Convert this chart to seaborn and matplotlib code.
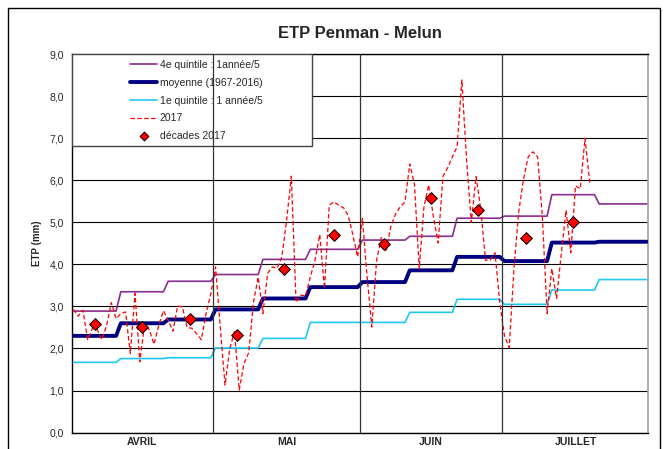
import numpy as np
import pandas as pd
import matplotlib
matplotlib.use("Agg")
import matplotlib.pyplot as plt
import seaborn as sns
from matplotlib.patches import Rectangle

# 12 décades d'avril à juillet (1-10, 11-20, 21-fin de mois)
decade_len = [10, 10, 10, 10, 10, 11, 10, 10, 10, 10, 10, 11]
quint4 = [2.89, 3.35, 3.60, 3.76, 4.12, 4.36, 4.58, 4.67, 5.10, 5.15, 5.66, 5.44]
moyenne = [2.30, 2.60, 2.69, 2.93, 3.19, 3.46, 3.58, 3.86, 4.18, 4.08, 4.52, 4.54]
quint1 = [1.67, 1.76, 1.78, 2.01, 2.24, 2.62, 2.62, 2.86, 3.17, 3.05, 3.39, 3.64]

# ETP journalière 2017 (1er avril -> 19 juillet)
etp_2017 = [
    2.93, 2.77, 2.91, 2.21, 2.48, 2.45, 2.21, 2.55, 3.09, 2.71,
    2.83, 2.87, 1.88, 3.31, 1.68, 2.55, 2.45, 2.10, 2.55, 2.90,
    2.67, 2.41, 3.01, 2.99, 2.50, 2.48, 2.35, 2.21, 2.83, 3.30,
    3.94, 2.50, 1.13, 2.00, 2.40, 1.01, 1.64, 1.90, 3.10, 3.70,
    2.83, 3.79, 3.94, 3.91, 4.18, 5.05, 6.10, 3.10, 3.27, 3.25,
    3.70, 4.10, 4.71, 3.43, 5.41, 5.49, 5.41, 5.35, 5.17, 4.70, 4.18,
    5.10, 3.70, 2.51, 4.10, 4.64, 4.30, 4.90, 5.20, 5.37, 5.49,
    6.39, 5.90, 3.90, 5.37, 5.89, 5.13, 4.51, 6.09, 6.30, 6.56,
    6.80, 8.39, 6.48, 5.00, 6.09, 5.31, 4.10, 4.10, 4.28, 3.10,
    2.30, 2.02, 3.90, 5.25, 6.01, 6.56, 6.68, 6.56, 5.13, 2.83,
    3.90, 3.19, 4.26, 5.29, 4.28, 5.87, 5.80, 7.00, 5.95,
]
decades_2017 = [2.58, 2.51, 2.70, 2.33, 3.89, 4.70, 4.48, 5.59, 5.29, 4.62, 5.01]

months = ['AVRIL', 'MAI', 'JUIN', 'JUILLET']
month_len = [30, 31, 30, 31]
yticks = [0, 1, 2, 3, 4, 5, 6, 7, 8, 9]

labels = ['4e quintile : 1année/5', 'moyenne (1967-2016)', '1e quintile : 1 année/5',
          '2017', 'décades 2017']

sns.set_style("white")
plt.rcParams['font.family'] = ['Liberation Sans', 'DejaVu Sans']

n_days = sum(month_len)
jours = np.arange(n_days) + 0.5
ref = pd.DataFrame({
    'jour': jours,
    'q4': np.repeat(quint4, decade_len),
    'moy': np.repeat(moyenne, decade_len),
    'q1': np.repeat(quint1, decade_len),
})
obs = pd.DataFrame({'jour': jours[:len(etp_2017)], 'etp': etp_2017})
starts = np.cumsum([0] + decade_len[:-1])
centres = starts + np.array(decade_len) / 2
dec = pd.DataFrame({'jour': centres[:len(decades_2017)], 'etp': decades_2017})

fig = plt.figure(figsize=(6.67, 4.49), dpi=100)
ax = fig.add_axes([0.108, 0.0367, 0.8635, 0.8423])

sns.lineplot(data=ref, x='jour', y='q4', color='#8B2C8E', lw=1.2, label=labels[0], ax=ax, zorder=3)
sns.lineplot(data=ref, x='jour', y='moy', color='#000080', lw=2.8, label=labels[1], ax=ax, zorder=3)
sns.lineplot(data=ref, x='jour', y='q1', color='#1EC8F5', lw=1.2, label=labels[2], ax=ax, zorder=3)
sns.lineplot(data=obs, x='jour', y='etp', color='#FF0000', lw=0.9, linestyle=(0, (3.5, 2.0)),
             label=labels[3], ax=ax, zorder=4)
sns.scatterplot(data=dec, x='jour', y='etp', marker='D', s=36, color='#FF0000',
                edgecolor='black', linewidth=0.7, label=labels[4], ax=ax, zorder=5)

ax.set_xlim(0.2, n_days - 0.2)
ax.set_ylim(0, 9)
ax.set_yticks(yticks)
ax.set_yticklabels([f"{v:.1f}".replace('.', ',') for v in yticks], fontsize=7.5)
ax.grid(axis='y', color='black', lw=0.8, zorder=1)

bornes = np.cumsum(month_len)[:-1]
milieux = np.cumsum([0] + month_len[:-1]) + np.array(month_len) / 2
ax.set_xticks(bornes)
ax.set_xticklabels([])
ax.set_xticks(milieux, minor=True)
ax.set_xticklabels(months, minor=True, fontsize=7.5, fontweight='bold')
ax.tick_params(axis='x', which='minor', length=0, pad=3)
ax.tick_params(axis='x', which='major', length=4, direction='out', color='black')
ax.tick_params(axis='y', length=4, direction='out', color='black', pad=2)
for b in bornes:
    ax.axvline(b, color='#333333', lw=0.9, zorder=6)

for s in ['left', 'bottom', 'top']:
    ax.spines[s].set_color('black')
    ax.spines[s].set_linewidth(1.0)
ax.spines['right'].set_color('#A0A0A0')
ax.spines['right'].set_linewidth(1.2)

ax.set_xlabel('')
ax.set_ylabel('ETP (mm)', fontsize=7, fontweight='bold', labelpad=5)
ax.set_title('ETP Penman - Melun', fontsize=12, fontweight='bold', pad=12)

# cadre de la légende
ax.add_patch(Rectangle((0, 0.7575), 0.417, 0.2425, transform=ax.transAxes,
                       facecolor='white', edgecolor='#444444', lw=1.0, zorder=5.5))
handles, labs = ax.get_legend_handles_labels()
leg = ax.legend(handles, labs, loc='upper left', bbox_to_anchor=(0.085, 1.01),
                frameon=False, fontsize=7.5, handlelength=2.6, handletextpad=0.2,
                labelspacing=0.75, borderpad=0.4, markerscale=0.75)
leg.set_zorder(7)

fig.patches.append(Rectangle((8 / 667, -0.02), 652 / 667, 1.02 - 8 / 449,
                             transform=fig.transFigure, fill=False, ec='black', lw=1.0))

fig.savefig('out.png', dpi=100)
